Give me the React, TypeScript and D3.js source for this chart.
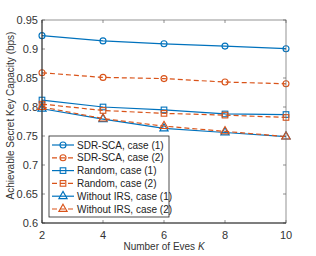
import React from 'react';
import * as d3 from 'd3';

// Number of eavesdroppers on the x axis
const eves = [2, 4, 6, 8, 10];

// Achievable secret key capacity (bps)
const sdrCase1 = [0.923, 0.914, 0.909, 0.905, 0.9005];
const sdrCase2 = [0.859, 0.851, 0.849, 0.843, 0.840];
const randomCase1 = [0.812, 0.800, 0.795, 0.788, 0.787];
const randomCase2 = [0.805, 0.794, 0.789, 0.786, 0.782];
const noIrsCase1 = [0.797, 0.779, 0.763, 0.756, 0.749];
const noIrsCase2 = [0.800, 0.780, 0.767, 0.758, 0.749];

const xTicks = [2, 4, 6, 8, 10];
const yTicks = [0.6, 0.65, 0.7, 0.75, 0.8, 0.85, 0.9, 0.95];

const BLUE = '#0072BD';
const ORANGE = '#D95319';

type Marker = 'circle' | 'square' | 'triangle';

const series: { name: string; values: number[]; color: string; dashed: boolean; marker: Marker }[] = [
  { name: 'SDR-SCA, case (1)', values: sdrCase1, color: BLUE, dashed: false, marker: 'circle' },
  { name: 'SDR-SCA, case (2)', values: sdrCase2, color: ORANGE, dashed: true, marker: 'circle' },
  { name: 'Random, case (1)', values: randomCase1, color: BLUE, dashed: false, marker: 'square' },
  { name: 'Random, case (2)', values: randomCase2, color: ORANGE, dashed: true, marker: 'square' },
  { name: 'Without IRS, case (1)', values: noIrsCase1, color: BLUE, dashed: false, marker: 'triangle' },
  { name: 'Without IRS, case (2)', values: noIrsCase2, color: ORANGE, dashed: true, marker: 'triangle' },
];

const MarkerShape = ({ kind, x, y, color }: { kind: Marker; x: number; y: number; color: string }) => {
  if (kind === 'circle') return <circle cx={x} cy={y} r={3} fill="none" stroke={color} strokeWidth={1.1} />;
  if (kind === 'square') return <rect x={x - 2.8} y={y - 2.8} width={5.6} height={5.6} fill="none" stroke={color} strokeWidth={1.1} />;
  const t = d3.symbol(d3.symbolTriangle, 30)();
  return <path d={t || ''} transform={`translate(${x},${y})`} fill="none" stroke={color} strokeWidth={1.1} />;
};

export default function App() {
  const width = 316;
  const height = 256;
  const left = 42, right = 286, top = 20, bottom = 223;

  const x = d3.scaleLinear().domain([2, 10]).range([left, right]);
  const y = d3.scaleLinear().domain([0.6, 0.95]).range([bottom, top]);

  const line = d3.line<number>()
    .x((_, i) => x(eves[i]))
    .y(d => y(d));

  const font = 'Liberation Sans, Arial, sans-serif';
  const legX = 49, legY = 136, legW = 120, legH = 81, rowH = 12.8;

  return (
    <svg width={width} height={height} style={{ position: 'absolute', left: 0, top: 0 }} fontFamily={font}>
      <rect x={0} y={0} width={width} height={height} fill="#fff" />

      {/* ticks */}
      {xTicks.map(t => (
        <g key={'x' + t}>
          <line x1={x(t)} x2={x(t)} y1={bottom} y2={bottom - 3} stroke="#444" strokeWidth={0.6} />
          <line x1={x(t)} x2={x(t)} y1={top} y2={top + 3} stroke="#444" strokeWidth={0.6} />
          <text x={x(t)} y={bottom + 16} textAnchor="middle" fontSize={11} fill="#333">{t}</text>
        </g>
      ))}
      {yTicks.map(t => (
        <g key={'y' + t}>
          <line x1={left} x2={left + 3} y1={y(t)} y2={y(t)} stroke="#444" strokeWidth={0.6} />
          <line x1={right} x2={right - 3} y1={y(t)} y2={y(t)} stroke="#444" strokeWidth={0.6} />
          <text x={left - 4} y={y(t) + 4} textAnchor="end" fontSize={11} fill="#333">{d3.format('~g')(t)}</text>
        </g>
      ))}

      {/* series */}
      {series.map(s => (
        <g key={s.name}>
          <path d={line(s.values) || ''} fill="none" stroke={s.color} strokeWidth={1.2}
            strokeDasharray={s.dashed ? '5,3' : undefined} />
          {s.values.map((v, i) => (
            <MarkerShape key={i} kind={s.marker} x={x(eves[i])} y={y(v)} color={s.color} />
          ))}
        </g>
      ))}

      {/* axes box */}
      <rect x={left} y={top} width={right - left} height={bottom - top} fill="none" stroke="#666" strokeWidth={0.7} />
      <line x1={left} x2={left} y1={top} y2={bottom} stroke="#222" strokeWidth={0.9} />
      <line x1={left} x2={right} y1={bottom} y2={bottom} stroke="#222" strokeWidth={0.9} />

      {/* legend */}
      <rect x={legX} y={legY} width={legW} height={legH} fill="#fff" stroke="#222" strokeWidth={0.8} />
      {series.map((s, i) => {
        const cy = legY + 9 + i * rowH;
        return (
          <g key={'leg' + s.name}>
            <line x1={legX + 3} x2={legX + 25} y1={cy} y2={cy} stroke={s.color} strokeWidth={1.2}
              strokeDasharray={s.dashed ? '5,3' : undefined} />
            <MarkerShape kind={s.marker} x={legX + 14} y={cy} color={s.color} />
            <text x={legX + 28} y={cy + 3.6} fontSize={10} fill="#222">{s.name}</text>
          </g>
        );
      })}

      {/* axis labels */}
      <text x={(left + right) / 2} y={250} textAnchor="middle" fontSize={10} fill="#333">
        Number of Eves <tspan fontStyle="italic">K</tspan>
      </text>
      <text transform={`translate(14,${(top + bottom) / 2 - 6}) rotate(-90)`} textAnchor="middle" fontSize={10} fill="#333">
        Achievable Secret Key Capacity (bps)
      </text>
    </svg>
  );
}
